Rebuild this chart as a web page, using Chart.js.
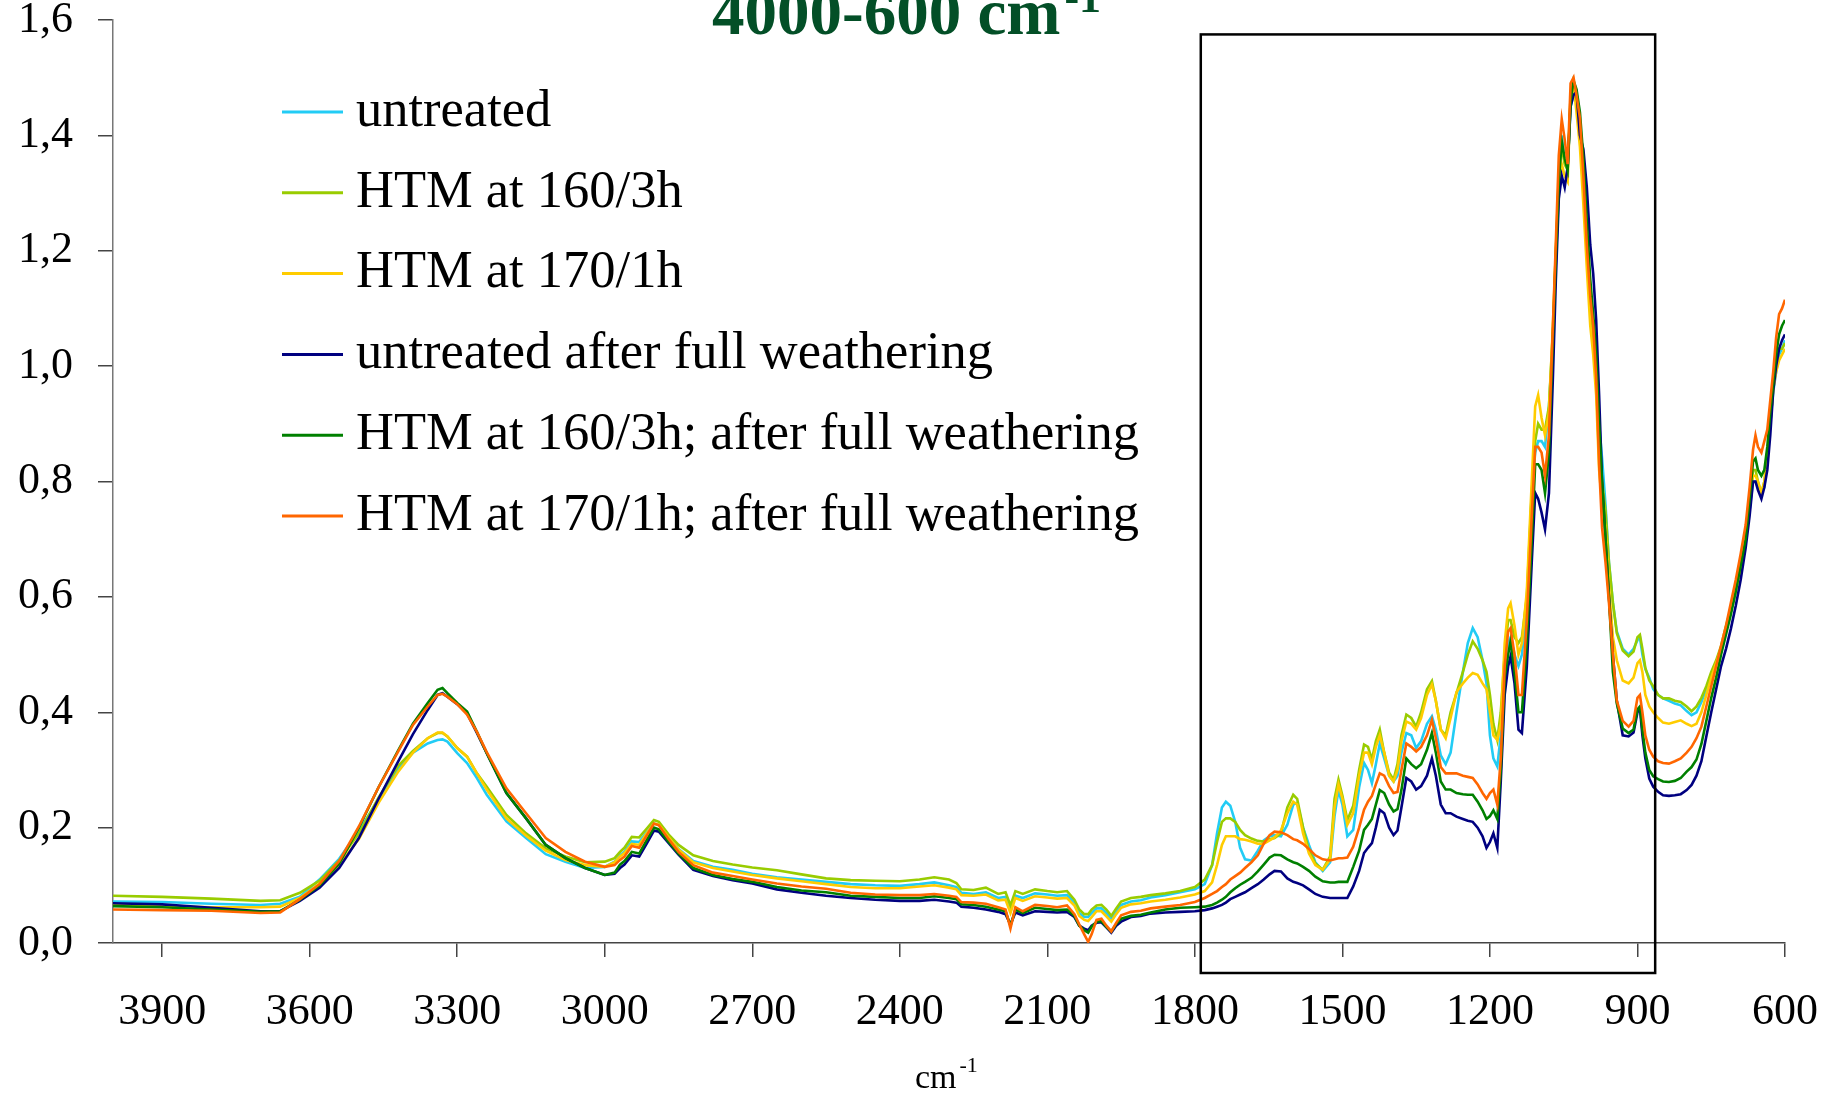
<!DOCTYPE html>
<html><head><meta charset="utf-8">
<script src="https://cdn.jsdelivr.net/npm/chart.js@4.4.1/dist/chart.umd.min.js"></script>
<style>html,body{margin:0;padding:0;background:#fff;overflow:hidden}</style>
</head><body>
<canvas id="c" width="1841" height="1094"></canvas>
<script>
const wavenumbers = [
4000,3900,3800,3700,3660,3620,3580,3540,3500,3460,
3420,3390,3360,3340,3330,3320,3300,3280,3260,3240,
3200,3160,3120,3080,3040,3000,2980,2969,2960,2945,
2930,2915,2900,2890,2870,2850,2820,2780,2740,2700,
2650,2600,2550,2500,2450,2400,2360,2330,2300,2285,
2275,2250,2225,2200,2185,2175,2165,2150,2125,2100,
2080,2060,2045,2035,2025,2017,2010,2000,1990,1980,
1970,1960,1950,1930,1910,1890,1860,1830,1800,1780,
1765,1755,1745,1737,1728,1718,1708,1698,1685,1672,
1660,1648,1638,1625,1612,1600,1592,1580,1568,1555,
1540,1525,1516,1508,1500,1490,1478,1466,1456,1448,
1440,1432,1424,1415,1405,1396,1388,1380,1370,1360,
1350,1340,1328,1318,1310,1300,1290,1280,1268,1255,
1245,1235,1225,1215,1207,1200,1193,1185,1178,1170,
1163,1158,1150,1142,1135,1125,1115,1108,1102,1095,
1088,1080,1072,1066,1060,1054,1048,1042,1036,1030,
1024,1017,1010,1003,996,990,984,978,972,965,
958,950,942,930,918,908,900,895,890,884,
876,868,858,848,836,824,812,800,790,780,
770,760,750,740,730,720,710,700,690,680,
672,665,660,655,648,642,636,630,624,618,
612,606,600];

const untreated = [
.072,.071,.068,.066,.068,.080,.110,.146,.195,.248,
.302,.330,.346,.352,.353,.349,.329,.312,.286,.257,
.211,.182,.154,.141,.130,.132,.141,.152,.158,.176,
.175,.192,.207,.205,.183,.163,.142,.132,.127,.120,
.114,.110,.106,.102,.100,.099,.102,.105,.100,.097,
.087,.085,.088,.078,.080,.058,.082,.078,.086,.084,
.082,.083,.070,.052,.045,.045,.052,.060,.060,.052,
.042,.055,.066,.072,.074,.079,.083,.088,.093,.102,
.135,.190,.235,.245,.238,.210,.165,.145,.143,.160,
.178,.185,.187,.185,.205,.240,.243,.200,.170,.140,
.125,.140,.220,.265,.240,.185,.196,.270,.312,.300,
.277,.310,.346,.320,.290,.280,.290,.330,.364,.360,
.338,.350,.380,.393,.370,.325,.310,.330,.400,.470,
.520,.546,.530,.490,.450,.360,.320,.306,.360,.480,
.520,.530,.500,.480,.500,.580,.780,.850,.870,.870,
.860,.930,1.05,1.18,1.30,1.40,1.36,1.34,1.45,1.47,
1.46,1.42,1.33,1.22,1.12,1.07,1.00,.90,.84,.76,
.66,.59,.54,.51,.50,.51,.525,.53,.50,.475,
.46,.44,.43,.424,.42,.415,.412,.402,.395,.40,
.418,.44,.465,.485,.51,.545,.575,.61,.65,.71,
.75,.80,.80,.79,.78,.79,.84,.90,.955,.99,
1.02,1.03,1.045];

const htm160 = [
.082,.080,.077,.073,.074,.087,.108,.143,.190,.252,
.307,.333,.355,.364,.364,.358,.338,.323,.294,.271,
.222,.190,.164,.150,.140,.141,.147,.158,.165,.184,
.183,.198,.213,.210,.188,.170,.152,.142,.136,.131,
.126,.119,.112,.109,.108,.107,.110,.114,.110,.104,
.093,.092,.096,.085,.088,.065,.090,.085,.093,.090,
.088,.090,.075,.058,.050,.050,.058,.065,.066,.058,
.047,.060,.072,.078,.080,.083,.086,.090,.097,.110,
.135,.175,.210,.216,.216,.210,.196,.187,.181,.177,
.176,.180,.182,.190,.235,.257,.250,.200,.160,.138,
.127,.150,.250,.283,.255,.213,.238,.300,.344,.340,
.318,.350,.370,.330,.295,.283,.310,.360,.396,.390,
.375,.400,.440,.454,.420,.370,.360,.400,.433,.470,
.500,.523,.510,.490,.470,.430,.380,.352,.400,.500,
.560,.560,.530,.520,.530,.600,.780,.870,.900,.890,
.890,.930,1.06,1.20,1.33,1.38,1.35,1.34,1.47,1.49,
1.47,1.42,1.32,1.20,1.10,1.05,.98,.85,.80,.75,
.66,.59,.537,.507,.497,.505,.53,.534,.51,.477,
.455,.445,.43,.424,.424,.42,.418,.41,.402,.41,
.425,.445,.47,.49,.515,.55,.58,.62,.66,.715,
.76,.82,.82,.80,.78,.80,.84,.90,.96,1.0,
1.03,1.03,1.04];

const htm170 = [
.066,.064,.062,.062,.063,.078,.103,.136,.180,.243,
.297,.330,.355,.365,.365,.358,.338,.323,.294,.266,
.216,.186,.160,.144,.135,.132,.140,.150,.156,.172,
.170,.190,.207,.205,.183,.162,.140,.130,.124,.118,
.112,.107,.102,.097,.095,.095,.098,.100,.096,.093,
.083,.082,.084,.074,.075,.052,.078,.073,.081,.079,
.077,.078,.065,.047,.040,.038,.045,.055,.055,.046,
.037,.050,.061,.067,.069,.072,.075,.079,.084,.090,
.105,.135,.170,.185,.185,.185,.180,.179,.176,.172,
.172,.178,.183,.195,.225,.245,.240,.190,.155,.135,
.127,.145,.235,.275,.250,.205,.225,.290,.330,.330,
.310,.340,.360,.330,.290,.280,.300,.350,.384,.380,
.370,.390,.430,.448,.420,.370,.355,.390,.435,.450,
.460,.468,.465,.450,.440,.400,.360,.352,.380,.520,
.580,.589,.550,.500,.520,.610,.800,.930,.950,.910,
.880,.920,1.07,1.20,1.30,1.35,1.33,1.32,1.47,1.49,
1.44,1.38,1.28,1.17,1.07,1.02,.95,.82,.76,.72,
.62,.53,.49,.455,.45,.46,.485,.49,.47,.43,
.41,.40,.39,.382,.38,.383,.386,.38,.376,.38,
.40,.43,.46,.485,.51,.545,.575,.61,.65,.71,
.755,.81,.81,.80,.78,.80,.85,.90,.96,.99,
1.01,1.02,1.03];

const untreatedWeathered = [
.069,.067,.061,.055,.055,.073,.096,.130,.182,.250,
.315,.362,.404,.430,.433,.427,.414,.398,.364,.329,
.260,.216,.170,.147,.130,.118,.120,.130,.136,.152,
.150,.172,.195,.193,.173,.153,.127,.116,.109,.103,
.093,.087,.082,.078,.075,.073,.073,.075,.072,.070,
.063,.061,.058,.054,.050,.032,.053,.048,.055,.054,
.053,.054,.045,.030,.025,.022,.030,.035,.036,.027,
.018,.030,.037,.045,.047,.051,.053,.054,.055,.057,
.060,.063,.066,.070,.076,.080,.084,.088,.095,.102,
.110,.119,.125,.124,.112,.106,.104,.100,.093,.085,
.080,.078,.078,.078,.078,.078,.098,.125,.156,.165,
.173,.200,.231,.225,.200,.187,.195,.235,.286,.280,
.266,.272,.290,.320,.290,.240,.225,.225,.219,.215,
.212,.210,.200,.185,.165,.175,.190,.165,.280,.430,
.480,.497,.450,.370,.364,.480,.660,.780,.770,.746,
.717,.780,.980,1.15,1.29,1.33,1.31,1.345,1.45,1.47,
1.475,1.40,1.376,1.31,1.21,1.16,1.08,.95,.80,.70,
.60,.50,.42,.36,.358,.365,.40,.407,.36,.32,
.285,.271,.262,.256,.255,.256,.258,.265,.274,.29,
.315,.358,.40,.44,.48,.51,.545,.585,.63,.685,
.74,.80,.80,.785,.77,.79,.82,.88,.957,1.0,
1.03,1.045,1.055];

const htm160Weathered = [
.064,.062,.058,.054,.055,.075,.100,.138,.200,.270,
.334,.380,.416,.439,.442,.433,.416,.401,.366,.329,
.260,.216,.170,.147,.130,.118,.122,.136,.142,.158,
.155,.178,.200,.197,.175,.155,.130,.118,.111,.106,
.097,.091,.088,.082,.080,.078,.078,.081,.078,.076,
.067,.066,.063,.058,.055,.030,.058,.052,.061,.059,
.057,.058,.047,.030,.022,.018,.028,.037,.038,.028,
.020,.033,.042,.047,.049,.053,.058,.061,.062,.063,
.066,.070,.075,.080,.088,.095,.101,.106,.113,.124,
.136,.148,.153,.152,.145,.140,.138,.132,.125,.115,
.107,.105,.105,.106,.106,.106,.132,.160,.196,.205,
.215,.240,.265,.260,.240,.228,.232,.265,.320,.310,
.303,.310,.335,.364,.330,.280,.266,.266,.260,.258,
.257,.257,.245,.230,.215,.220,.230,.215,.300,.460,
.500,.523,.470,.400,.400,.520,.700,.830,.830,.820,
.780,.850,1.05,1.19,1.32,1.39,1.36,1.34,1.46,1.495,
1.48,1.44,1.36,1.25,1.15,1.09,1.02,.90,.80,.70,
.60,.47,.415,.372,.364,.37,.405,.41,.37,.33,
.30,.289,.284,.28,.279,.281,.286,.297,.305,.318,
.345,.385,.425,.46,.50,.535,.57,.61,.655,.70,
.77,.835,.84,.82,.81,.82,.86,.92,.968,1.02,
1.055,1.07,1.08];

const htm170Weathered = [
.058,.057,.056,.052,.053,.076,.102,.142,.202,.270,
.332,.378,.410,.430,.432,.427,.414,.396,.366,.331,
.268,.225,.182,.158,.141,.132,.135,.144,.150,.168,
.165,.186,.207,.204,.180,.158,.135,.122,.116,.110,
.103,.098,.094,.087,.084,.083,.083,.085,.082,.080,
.071,.070,.068,.062,.058,.025,.062,.055,.066,.064,
.062,.065,.050,.032,.015,.002,.015,.040,.042,.030,
.020,.035,.048,.054,.056,.060,.063,.066,.071,.078,
.085,.090,.097,.102,.110,.116,.122,.130,.140,.152,
.172,.187,.193,.192,.187,.180,.178,.172,.163,.152,
.145,.143,.145,.147,.147,.148,.167,.200,.231,.245,
.255,.275,.294,.290,.272,.260,.262,.300,.346,.340,
.332,.340,.360,.387,.355,.305,.294,.294,.294,.290,
.288,.286,.275,.260,.250,.260,.266,.240,.320,.480,
.540,.546,.500,.430,.430,.560,.740,.860,.860,.850,
.810,.880,1.07,1.215,1.365,1.428,1.393,1.35,1.49,1.50,
1.47,1.43,1.33,1.21,1.12,1.07,.98,.83,.72,.66,
.59,.50,.42,.385,.375,.385,.425,.43,.40,.36,
.335,.323,.315,.312,.311,.315,.32,.33,.34,.355,
.375,.41,.445,.48,.515,.55,.59,.63,.675,.725,
.79,.855,.88,.86,.85,.87,.89,.94,.99,1.05,
1.09,1.10,1.115];

const seriesLabels = ['untreated','HTM at 160/3h','HTM at 170/1h','untreated after full weathering','HTM at 160/3h; after full weathering','HTM at 170/1h; after full weathering'];
const seriesValues = [untreated, htm160, htm170, untreatedWeathered, htm160Weathered, htm170Weathered];
const seriesColors = ['#22ccf5','#99cc00','#ffcc00','#000080','#008000','#ff6600'];
const xTickValues = [3900,3600,3300,3000,2700,2400,2100,1800,1500,1200,900,600];
const yTickValues = [0,0.2,0.4,0.6,0.8,1.0,1.2,1.4,1.6];
const boxRegion = {xFrom:1788, xTo:864, yFrom:-0.052, yTo:1.575};

seriesValues.forEach((s,i)=>{ if (s.length !== wavenumbers.length) throw new Error('length mismatch series '+i+': '+s.length+' vs '+wavenumbers.length); });

const SERIF = '"Liberation Serif", "Times New Roman", serif';

const decor = {
  id: 'decor',
  afterDraw(chart) {
    const ctx = chart.ctx, xs = chart.scales.x, ys = chart.scales.y, area = chart.chartArea;
    ctx.save();
    // highlight box
    const bx1 = xs.getPixelForValue(boxRegion.xFrom), bx2 = xs.getPixelForValue(boxRegion.xTo);
    const by1 = ys.getPixelForValue(boxRegion.yTo), by2 = ys.getPixelForValue(boxRegion.yFrom);
    ctx.strokeStyle = '#000'; ctx.lineWidth = 2.5;
    ctx.strokeRect(bx1, by1, bx2 - bx1, by2 - by1);
    // legend
    ctx.textBaseline = 'middle'; ctx.textAlign = 'left';
    ctx.font = '52.5px ' + SERIF;
    const lx = area.left + 169, ly = area.top + 92;
    seriesLabels.forEach((lab, i) => {
      const y = ly + i * 80.8;
      ctx.strokeStyle = seriesColors[i]; ctx.lineWidth = 3;
      ctx.beginPath(); ctx.moveTo(lx, y); ctx.lineTo(lx + 61, y); ctx.stroke();
      ctx.fillStyle = '#000';
      ctx.fillText(lab, lx + 74, y);
    });
    // title (cut at the top as in the original)
    ctx.textBaseline = 'alphabetic';
    ctx.fillStyle = '#034f27';
    ctx.font = 'bold 65px ' + SERIF;
    const t = '4000-600 cm';
    ctx.fillText(t, 712, 34);
    const tw = ctx.measureText(t).width;
    ctx.font = 'bold 44px ' + SERIF;
    ctx.fillText('-1', 712 + tw + 4, 12);
    // x axis title
    ctx.fillStyle = '#000';
    ctx.font = '34px ' + SERIF;
    ctx.fillText('cm', 915, 1088);
    const cw = ctx.measureText('cm').width;
    ctx.font = '22px ' + SERIF;
    ctx.fillText('-1', 915 + cw + 3, 1072);
    ctx.restore();
  }
};

new Chart(document.getElementById('c'), {
  type: 'line',
  data: {
    datasets: seriesLabels.map((lab, i) => ({
      label: lab,
      data: wavenumbers.map((w, k) => ({x: w, y: seriesValues[i][k]})),
      borderColor: seriesColors[i],
      backgroundColor: seriesColors[i],
      borderWidth: 2.6,
      pointRadius: 0,
      tension: 0,
      fill: false,
      order: seriesLabels.length - 1 - i
    }))
  },
  options: {
    responsive: false,
    animation: false,
    devicePixelRatio: 1,
    layout: {padding: {top: 20, right: 56, left: 0, bottom: 0}},
    plugins: {legend: {display: false}, title: {display: false}, tooltip: {enabled: false}},
    scales: {
      x: {
        type: 'linear', reverse: true, min: 600, max: 4000,
        afterBuildTicks: s => { s.ticks = xTickValues.map(v => ({value: v})); },
        afterFit: s => { s.height = 151; s.paddingLeft = 0; s.paddingRight = 0; },
        ticks: {font: {family: SERIF, size: 44}, color: '#000', padding: 29, maxRotation: 0, autoSkip: false, callback: v => String(v)},
        grid: {drawOnChartArea: false, drawTicks: true, tickLength: 14, color: '#444', lineWidth: 1.5},
        border: {display: true, color: '#444', width: 1.5}
      },
      y: {
        min: 0, max: 1.6,
        afterBuildTicks: s => { s.ticks = yTickValues.map(v => ({value: v})); },
        afterFit: s => { s.width = 113; s.paddingTop = 0; s.paddingBottom = 0; },
        ticks: {font: {family: SERIF, size: 44}, color: '#000', padding: 25, callback: v => v.toFixed(1).replace('.', ',')},
        grid: {drawOnChartArea: false, drawTicks: true, tickLength: 15, color: '#444', lineWidth: 1.5},
        border: {display: true, color: '#777', width: 1.5}
      }
    }
  },
  plugins: [decor]
});
</script>
</body></html>
